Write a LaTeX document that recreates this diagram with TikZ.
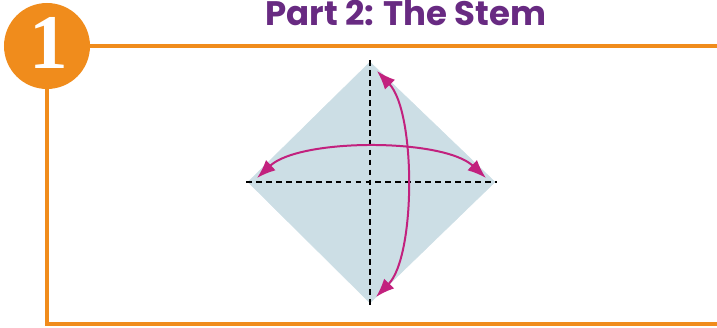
\documentclass[tikz,border=0pt]{standalone}
\usepackage{fontspec}
\newfontfamily\titlefont{Poppins}
\newfontfamily\digitfont{Liberation Serif}
\usepackage{tikz}
\usetikzlibrary{arrows.meta,calc,positioning}
\definecolor{frameorange}{HTML}{F08C1C}
\definecolor{titlepurple}{HTML}{682A82}
\definecolor{arrowpink}{HTML}{C2217E}
\definecolor{paperblue}{HTML}{CCDEE5}

\begin{document}
\begin{tikzpicture}[x=0.03cm,y=0.03cm]
                \def\cx{371}
                \def\cy{145}
                \useasboundingbox (0,0) rectangle (717,327);
                \coordinate (ptop) at (\cx-1,265);
                \coordinate (pbot) at (\cx-1,24);
                \coordinate (pleft) at (248,\cy);
                \coordinate (pright) at (495,\cy);
                %Shade
                \filldraw[paperblue] (ptop) -- (pright) -- (pbot) -- (pleft) -- cycle;
                %Folds
                \draw[line width=1.6pt,dash pattern=on 5pt off 3.5pt] ($(pleft)+(-2,0)$) -- ($(pright)+(2,0)$);
                \draw[line width=1.6pt,dash pattern=on 5pt off 3.5pt] ($(ptop)+(0,2)$) -- ($(pbot)+(0,-2)$);
                %Arrows
                \coordinate (h1) at (257,149);
                \coordinate (h2) at (486,149);
                \coordinate (v1) at (377,256);
                \coordinate (v2) at (376,30);
                \draw[arrowpink,line width=1.7pt,{Latex[length=16pt,width=12pt]}-{Latex[length=16pt,width=12pt]}]
                    (h1) .. controls (300,189) and (443,189) .. (h2);
                \draw[arrowpink,line width=1.7pt,{Latex[length=16pt,width=12pt]}-{Latex[length=16pt,width=12pt]}]
                    (v1) .. controls (416,215) and (416,71) .. (v2);
                %Frame
                \node[circle,fill=frameorange,minimum size=2.58cm,inner sep=0pt] (num) at (47,281) {};
                \node[white,font=\digitfont\fontsize{66}{66}\selectfont\bfseries,anchor=base] (digit) at (49,259) {1};
                \coordinate (frametr) at (717,281);
                \coordinate (framebl) at (47,3);
                \coordinate (framebr) at (717,3);
                \draw[frameorange,line width=3.6pt] (num.east) -- (frametr);
                \draw[frameorange,line width=3.6pt] (num.south) -- (framebl) -- (framebr);
                %Title
                \node[titlepurple,font=\titlefont\fontsize{29}{29}\selectfont\bfseries,anchor=base] (title) at (406,301) {Part 2: The Stem};
            \end{tikzpicture}
\end{document}
